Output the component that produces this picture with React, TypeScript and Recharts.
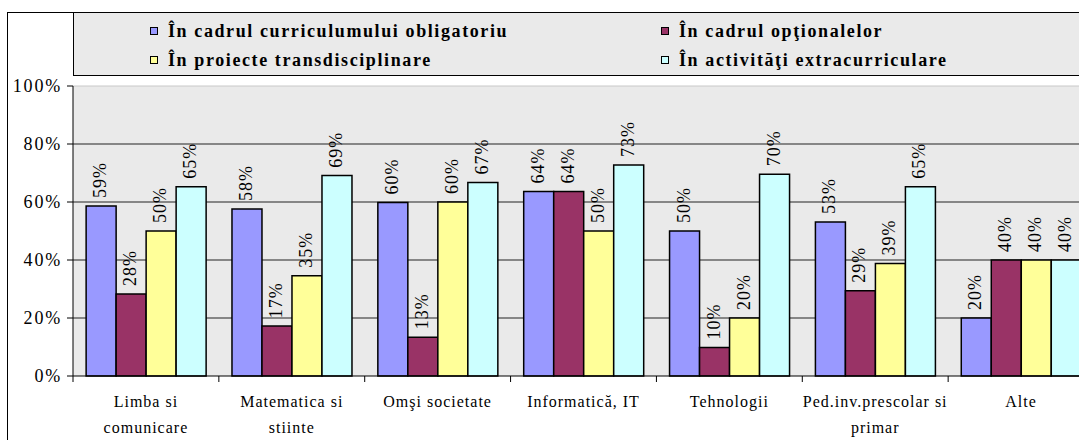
import {
  Bar,
  BarChart,
  CartesianGrid,
  LabelList,
  Legend,
  ReferenceLine,
  XAxis,
  YAxis,
} from 'recharts';

const categories = [
  'Limba si\ncomunicare',
  'Matematica si\nstiinte',
  'Omşi societate',
  'Informatică, IT',
  'Tehnologii',
  'Ped.inv.prescolar si\nprimar',
  'Alte',
];
const obligatoriu = [58.6, 57.6, 59.8, 63.6, 50, 53.1, 20];
const optionale = [28.3, 17.2, 13.4, 63.6, 9.8, 29.4, 40];
const transdisciplinare = [50, 34.6, 60, 50, 20, 38.8, 40];
const extracurriculare = [65.3, 69.1, 66.7, 72.8, 69.6, 65.3, 40];

const seriesNames = [
  'În cadrul curriculumului obligatoriu',
  'În cadrul opţionalelor',
  'În proiecte transdisciplinare',
  'În activităţi extracurriculare',
];
const seriesColors = ['#9999FF', '#993366', '#FFFF99', '#CCFFFF'];
const yTicks = [0, 20, 40, 60, 80, 100];

const data = categories.map((name, i) => ({
  name,
  obligatoriu: obligatoriu[i],
  optionale: optionale[i],
  transdisciplinare: transdisciplinare[i],
  extracurriculare: extracurriculare[i],
}));
const keys = ['obligatoriu', 'optionale', 'transdisciplinare', 'extracurriculare'];

const serif = 'Liberation Serif, Times New Roman, Tinos, Times, serif';

function CategoryTick(props: any) {
  const { x, y, payload } = props;
  const lines = String(payload.value).split('\n');
  const half = payload.offset ?? 0;
  return (
    <g>
      <line x1={x - half} x2={x - half} y1={y} y2={y + 6} stroke="#000" />
      <text x={x} y={y} textAnchor="middle" fontSize={16} letterSpacing={1} fill="#000" style={{ fontFamily: serif }}>
        {lines.map((l, i) => (
          <tspan key={i} x={x} dy={i === 0 ? 31 : 26}>
            {l}
          </tspan>
        ))}
      </text>
    </g>
  );
}

function ValueLabel(props: any) {
  const { x, y, width, value } = props;
  const cx = Number(x) + Number(width) / 2 + 5;
  const ty = Number(y) - 8;
  return (
    <text
      x={cx}
      y={ty}
      transform={`rotate(-90 ${cx} ${ty})`}
      fontSize={18}
      letterSpacing={1}
      fill="#000"
      style={{ fontFamily: serif }}
    >
      {Math.round(Number(value))}%
    </text>
  );
}

function LegendBox({ payload }: any) {
  const items = [...(payload ?? [])].sort(
    (a: any, b: any) => seriesNames.indexOf(a.value) - seriesNames.indexOf(b.value),
  );
  return (
    <div
      style={{
        boxSizing: 'border-box',
        width: '100%',
        height: '100%',
        background: '#EAEAEA',
        border: '1px solid #000',
        display: 'grid',
        gridTemplateColumns: '511px 500px',
        paddingLeft: 76,
        paddingTop: 3,
        fontFamily: serif,
        fontWeight: 'bold',
        fontSize: 18,
        letterSpacing: 1.6,
        lineHeight: '28px',
        color: '#000',
      }}
    >
      {items.map((it: any, i: number) => (
        <div key={i} style={{ display: 'flex', alignItems: 'center', whiteSpace: 'nowrap' }}>
          <span
            style={{
              display: 'inline-block',
              width: 6,
              height: 6,
              background: it.color,
              border: '1.5px solid #000',
              marginRight: 10,
            }}
          />
          {it.value}
        </div>
      ))}
    </div>
  );
}

export default function App() {
  return (
    <div style={{ position: 'absolute', left: 0, top: 0, width: 1079, height: 440, overflow: 'hidden', background: '#fff' }}>
      <div
        style={{
          position: 'absolute',
          left: 7,
          top: 12,
          width: 1200,
          height: 500,
          borderLeft: '1px solid #000',
          borderTop: '1px solid #000',
        }}
      />
      <BarChart
        width={1100}
        height={440}
        data={data}
        margin={{ top: 86, right: 6, bottom: 34, left: 0 }}
        barCategoryGap="9%"
        barGap={0}
      >
        <CartesianGrid vertical={false} fill="#EAEAEA" stroke="#222" horizontalValues={[20, 40, 60, 80]} />
        <ReferenceLine y={100} stroke="#c8c8c8" />
        <XAxis
          dataKey="name"
          height={30}
          interval={0}
          tickLine={false}
          tickSize={0}
          tickMargin={0}
          axisLine={{ stroke: '#000' }}
          tick={<CategoryTick />}
        />
        <YAxis
          width={73}
          domain={[0, 100]}
          ticks={yTicks}
          tickFormatter={(v: number) => `${v}%`}
          axisLine={{ stroke: '#000' }}
          tickLine={{ stroke: '#000' }}
          tickSize={6}
          tickMargin={5}
          tick={{ fontSize: 18, fill: '#000', style: { fontFamily: serif }, letterSpacing: 1.8 }}
        />
        <Legend
          layout="horizontal"
          verticalAlign="middle"
          align="center"
          wrapperStyle={{ top: 12, left: 73, width: 1100, height: 64 }}
          content={<LegendBox />}
        />
        {keys.map((k, i) => (
          <Bar
            key={k}
            dataKey={k}
            name={seriesNames[i]}
            fill={seriesColors[i]}
            stroke="#000"
            strokeWidth={1.5}
            isAnimationActive={false}
          >
            <LabelList dataKey={k} content={<ValueLabel />} />
          </Bar>
        ))}
      </BarChart>
    </div>
  );
}
